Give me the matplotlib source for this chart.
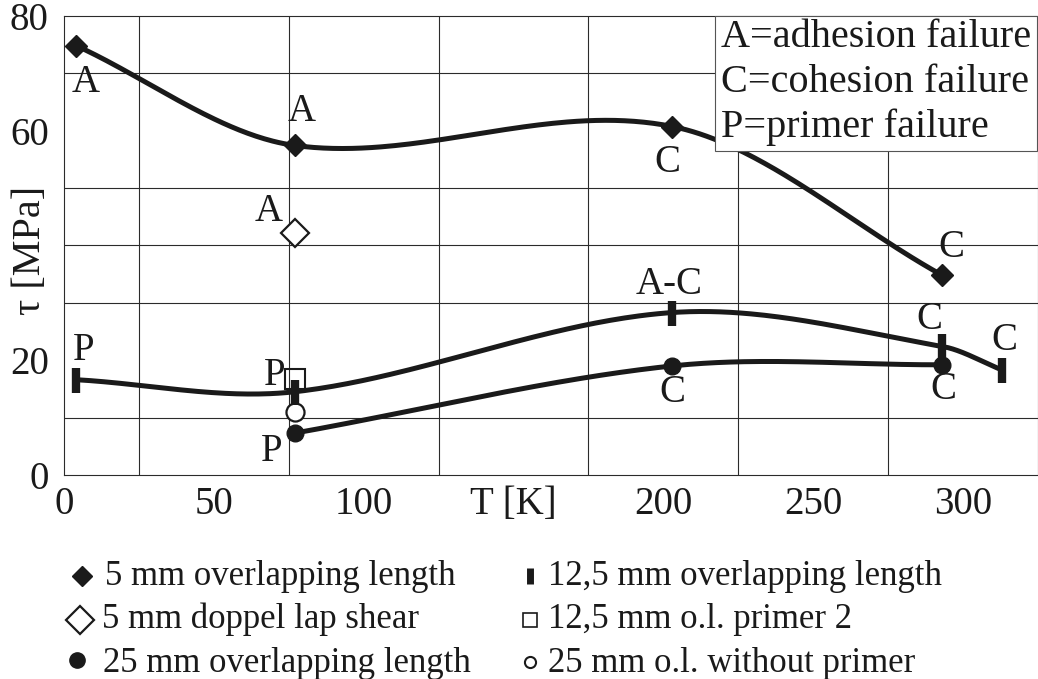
import numpy as np
import matplotlib
matplotlib.use("Agg")
import matplotlib.pyplot as plt
from matplotlib.patches import Rectangle
from matplotlib.transforms import blended_transform_factory

# temperature [K] / shear strength tau [MPa] / failure mode
T_5mm = [4, 77, 203, 293]
tau_5mm = [74.8, 57.4, 60.7, 34.8]
fail_5mm = ["A", "A", "C", "C"]

T_doppel = [77]
tau_doppel = [42.1]
fail_doppel = ["A"]

T_12mm = [4, 77, 203, 293, 313]
tau_12mm = [16.6, 14.5, 28.3, 22.4, 18.3]
fail_12mm = ["P", "", "A-C", "C", "C"]

T_12mm_p2 = [77]
tau_12mm_p2 = [16.7]
fail_12mm_p2 = ["P"]

T_25mm = [77, 203, 293]
tau_25mm = [7.3, 19.0, 19.2]
fail_25mm = ["P", "C", "C"]

T_25mm_np = [77]
tau_25mm_np = [11.0]

x_ticks = [0, 50, 100, 150, 200, 250, 300]
x_ticklabels = ["0", "50", "100", "T [K]", "200", "250", "300"]
y_ticks = [0, 20, 60, 80]

failure_key = ["A=adhesion failure", "C=cohesion failure", "P=primer failure"]
series_names = ["5 mm overlapping length", "5 mm doppel lap shear",
                "25 mm overlapping length", "12,5 mm overlapping length",
                "12,5 mm o.l. primer 2", "25 mm o.l. without primer"]

# label offsets in pixels (x right, y up) for the failure letters
off_5mm = [(10, -37), (7, 34), (-5, -36), (9, 28)]
off_doppel = [(-26, 22)]
off_12mm = [(8, 29), (0, 0), (-3, 28), (-13, 27), (2, 29)]
off_12mm_p2 = [(-20, 4)]
off_25mm = [(-23, -18), (0, -27), (1, -25)]

INK = "#1a1a1a"
GRID = "#2b2b2b"


def smooth_curve(x, y, per_seg=80):
    # cubic Hermite through the points, tangents from neighbouring points
    x = np.asarray(x, float)
    y = np.asarray(y, float)
    n = len(x)
    m = np.empty(n)
    m[0] = (y[1] - y[0]) / (x[1] - x[0])
    m[-1] = (y[-1] - y[-2]) / (x[-1] - x[-2])
    for i in range(1, n - 1):
        m[i] = (y[i + 1] - y[i - 1]) / (x[i + 1] - x[i - 1])
    xs, ys = [], []
    for i in range(n - 1):
        h = x[i + 1] - x[i]
        t = np.linspace(0, 1, per_seg)
        h00 = 2 * t**3 - 3 * t**2 + 1
        h10 = t**3 - 2 * t**2 + t
        h01 = -2 * t**3 + 3 * t**2
        h11 = t**3 - t**2
        xs.append(x[i] + h * t)
        ys.append(h00 * y[i] + h10 * h * m[i] + h01 * y[i + 1] + h11 * h * m[i + 1])
    return np.concatenate(xs), np.concatenate(ys)


plt.rcParams["font.family"] = ["Liberation Serif", "DejaVu Serif"]

W, H = 1038, 679
fig = plt.figure(figsize=(W / 100, H / 100), dpi=100)
ax = fig.add_axes([64 / W, (H - 475) / H, (W - 64) / W, (475 - 15.7) / H])
ax.set_xlim(0, (W - 64) / 3.013)
ax.set_ylim(0, 80)

ax.set_xticks(np.arange(0, 326, 25), minor=True)
ax.set_yticks(np.arange(0, 81, 10), minor=True)
ax.grid(True, which="minor", color=GRID, lw=0.8)
ax.set_xticks(x_ticks)
ax.set_xticklabels(x_ticklabels)
ax.set_yticks(y_ticks)
ax.tick_params(which="both", length=0, labelsize=28, colors=INK)
ax.tick_params(axis="x", pad=8)
ax.tick_params(axis="y", pad=11)
for s in ["left", "top", "bottom"]:
    ax.spines[s].set_color(GRID)
    ax.spines[s].set_linewidth(0.8)
ax.spines["right"].set_visible(False)
ax.text(-0.034, 39.2, "τ [MPa]", rotation=90, ha="center", va="center", fontsize=29,
        color=INK, transform=blended_transform_factory(ax.transAxes, ax.transData))

# smoothed curves
for xs, ys in [(T_5mm, tau_5mm), (T_12mm, tau_12mm), (T_25mm, tau_25mm)]:
    cx, cy = smooth_curve(xs, ys)
    ax.plot(cx, cy, color=INK, lw=3.6, solid_capstyle="butt", zorder=3)

ax.plot(T_5mm, tau_5mm, ls="none", marker="D", ms=11, mfc=INK, mec=INK, zorder=4)
ax.plot(T_doppel, tau_doppel, ls="none", marker="D", ms=14.5, mfc="white", mec=INK, mew=1.6, zorder=4)
ax.plot(T_12mm_p2, tau_12mm_p2, ls="none", marker="s", ms=14, mfc="none", mec=INK, mew=1.5, zorder=4)
ax.plot(T_12mm, tau_12mm, ls="none", marker="|", ms=18, mec=INK, mew=6, zorder=5)
ax.plot(T_25mm_np, tau_25mm_np, ls="none", marker="o", ms=13, mfc="white", mec=INK, mew=1.6, zorder=4)
ax.plot(T_25mm, tau_25mm, ls="none", marker="o", ms=12, mfc=INK, mec=INK, zorder=5)

groups = [(T_5mm, tau_5mm, fail_5mm, off_5mm),
          (T_doppel, tau_doppel, fail_doppel, off_doppel),
          (T_12mm, tau_12mm, fail_12mm, off_12mm),
          (T_12mm_p2, tau_12mm_p2, fail_12mm_p2, off_12mm_p2),
          (T_25mm, tau_25mm, fail_25mm, off_25mm)]
for xs, ys, labs, offs in groups:
    for x, y, lab, (dx, dy) in zip(xs, ys, labs, offs):
        if lab:
            ax.annotate(lab, (x, y), xytext=(dx, dy), textcoords="offset pixels",
                        ha="center", va="center", fontsize=28, color=INK, zorder=6)

# overlay in pixel coordinates for the key box and the bottom legend
ov = fig.add_axes([0, 0, 1, 1], zorder=10)
ov.set_xlim(0, W)
ov.set_ylim(H, 0)
ov.axis("off")
ov.patch.set_alpha(0)

ov.add_patch(Rectangle((714.5, 15.7), 322, 135.5, facecolor="white", edgecolor="#555555", lw=0.8))
for i, txt in enumerate(failure_key):
    ov.text(721, 46.7 + 45 * i, txt, fontsize=29, color=INK, ha="left", va="baseline")

leg_markers = [
    dict(marker="D", ms=10, mfc=INK, mec=INK),
    dict(marker="D", ms=14, mfc="white", mec=INK, mew=1.6),
    dict(marker="o", ms=11, mfc=INK, mec=INK),
    dict(marker="|", ms=12, mec=INK, mew=5),
    dict(marker="s", ms=10, mfc="none", mec=INK, mew=1.2),
    dict(marker="o", ms=8, mfc="white", mec=INK, mew=1.5),
]
leg_mx = [82, 80, 77, 530, 530, 530]
leg_my = [576, 620, 660, 576, 620, 662]
leg_tx = [105, 102, 103, 548, 548, 548]
leg_base = [585, 628, 672]
for i, (name, mk) in enumerate(zip(series_names, leg_markers)):
    ov.plot([leg_mx[i]], [leg_my[i]], ls="none", **mk)
    ov.text(leg_tx[i], leg_base[i % 3], name, fontsize=25, color=INK, ha="left", va="baseline")

fig.savefig("out.png", dpi=100)
